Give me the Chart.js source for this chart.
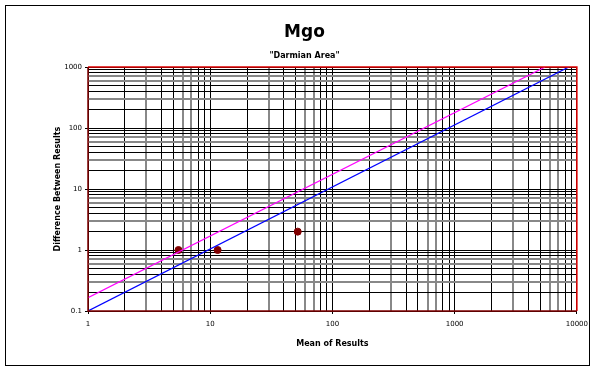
<!DOCTYPE html>
<html>
<head>
<meta charset="utf-8">
<script src="https://cdn.jsdelivr.net/npm/chart.js@4.4.1/dist/chart.umd.min.js"></script>
<style>
  body { margin: 0; background: #fff; }
  #frame { position: absolute; left: 5px; top: 5px; width: 583px; height: 359px; border: 1.5px solid #000; }
  #wrap { position: absolute; left: 0; top: 0; width: 594px; height: 369px; }
</style>
</head>
<body>
<div id="frame"></div>
<div id="wrap"><canvas id="chart"></canvas></div>
<script>
// tick labels of both log axes
const xTickLabels = [1, 10, 100, 1000, 10000];
const yTickLabels = [0.1, 1, 10, 100, 1000];

// measured results
const pointMeans = [5.5, 11.5, 52];
const pointDiffs = [1, 1, 2];

// limit lines
const magentaX = [1, 5500];
const magentaY = [0.165, 1000];
const blueX = [1, 8600];
const blueY = [0.1, 1000];

function toXY(xs, ys) {
    return xs.map((x, i) => ({ x: x, y: ys[i] }));
}

// every 1..9 step inside each decade
function logTicks(labels) {
    const out = [];
    for (let i = 0; i < labels.length - 1; i++) {
        for (let k = 1; k <= 9; k++) {
            out.push({ value: +(labels[i] * k).toPrecision(6) });
        }
    }
    out.push({ value: labels[labels.length - 1] });
    return out;
}

function significand(v) {
    return Math.round(v / Math.pow(10, Math.floor(Math.log10(v) + 1e-9)));
}

const shade = ['#000', '#000', '#888', '#000', '#000', '#888', '#888', '#000', '#000'];

function gridColor(ctx) {
    if (!ctx.tick) return '#000';
    return shade[significand(ctx.tick.value) - 1];
}
function gridWidth(ctx) {
    if (!ctx.tick) return 1;
    return shade[significand(ctx.tick.value) - 1] === '#888' ? 2 : 1;
}
function tickColor(labels) {
    return ctx => (ctx.tick && labels.includes(ctx.tick.value)) ? '#000' : 'rgba(0,0,0,0)';
}

const plotFrame = {
    id: 'plotFrame',
    afterDatasetsDraw(chart) {
        const a = chart.chartArea, c = chart.ctx;
        c.save();
        c.lineWidth = 1.5;
        c.strokeStyle = '#e00000';
        c.beginPath();
        c.moveTo(a.left, a.top);
        c.lineTo(a.right, a.top);
        c.lineTo(a.right, a.bottom);
        c.stroke();
        c.strokeStyle = '#800000';
        c.beginPath();
        c.moveTo(a.left, a.top);
        c.lineTo(a.left, a.bottom);
        c.lineTo(a.right, a.bottom);
        c.stroke();
        c.restore();
    }
};

const fontFace = '"DejaVu Sans", sans-serif';

new Chart(document.getElementById('chart'), {
    type: 'scatter',
    data: {
        datasets: [
            {
                label: 'Upper',
                data: toXY(magentaX, magentaY),
                showLine: true,
                borderColor: '#ff00ff',
                borderWidth: 1.2,
                pointRadius: 0
            },
            {
                label: 'Lower',
                data: toXY(blueX, blueY),
                showLine: true,
                borderColor: '#0000ff',
                borderWidth: 1.2,
                pointRadius: 0
            },
            {
                label: 'Results',
                data: toXY(pointMeans, pointDiffs),
                backgroundColor: '#800000',
                borderColor: '#800000',
                pointRadius: 3.5
            }
        ]
    },
    options: {
        responsive: true,
        maintainAspectRatio: false,
        animation: false,
        layout: { padding: { left: 27, right: 12, top: 0, bottom: 0 } },
        plugins: {
            legend: { display: false },
            tooltip: { enabled: false },
            title: {
                display: true,
                text: 'Mgo',
                color: '#000',
                font: { family: fontFace, size: 17, weight: 'bold' },
                padding: { top: 22, bottom: 0 }
            },
            subtitle: {
                display: true,
                text: '"Darmian Area"',
                color: '#000',
                font: { family: fontFace, size: 8, weight: 'bold' },
                padding: { top: 9, bottom: 6 }
            }
        },
        scales: {
            x: {
                type: 'logarithmic',
                min: xTickLabels[0],
                max: xTickLabels[xTickLabels.length - 1],
                afterBuildTicks: s => { s.ticks = logTicks(xTickLabels); },
                afterFit: s => { s.height = 58; },
                border: { display: false },
                grid: { color: gridColor, lineWidth: gridWidth, tickLength: 3, tickColor: tickColor(xTickLabels) },
                ticks: {
                    autoSkip: false,
                    maxRotation: 0,
                    padding: 6,
                    color: '#000',
                    font: { family: fontFace, size: 7 },
                    callback: v => xTickLabels.includes(v) ? String(v) : ''
                },
                title: {
                    display: true,
                    text: 'Mean of Results',
                    color: '#000',
                    font: { family: fontFace, size: 8, weight: 'bold' },
                    padding: { top: 0, bottom: 20 }
                }
            },
            y: {
                type: 'logarithmic',
                min: yTickLabels[0],
                max: yTickLabels[yTickLabels.length - 1],
                afterBuildTicks: s => { s.ticks = logTicks(yTickLabels); },
                afterFit: s => { s.width = 61; },
                border: { display: false },
                grid: { color: gridColor, lineWidth: gridWidth, tickLength: 3, tickColor: tickColor(yTickLabels) },
                ticks: {
                    autoSkip: false,
                    padding: 3,
                    color: '#000',
                    font: { family: fontFace, size: 7 },
                    callback: v => yTickLabels.includes(v) ? String(v) : ''
                },
                title: {
                    display: true,
                    text: 'Difference Between Results',
                    color: '#000',
                    font: { family: fontFace, size: 8, weight: 'bold' },
                    padding: { top: 26, bottom: 0 }
                }
            }
        }
    },
    plugins: [plotFrame]
});
</script>
</body>
</html>
